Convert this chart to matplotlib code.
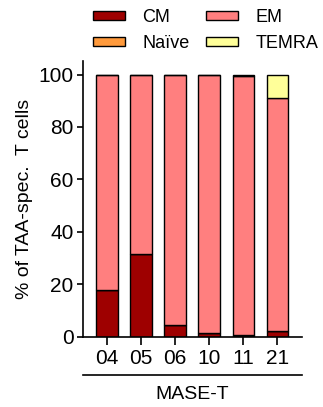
import numpy as np
import matplotlib.pyplot as plt

plt.rcParams['font.family'] = ['Liberation Sans', 'DejaVu Sans']

# Datos (% de células T específicas de TAA)
donors = ["04", "05", "06", "10", "11", "21"]
cm = [17.8, 31.7, 4.4, 1.3, 0.2, 2.3]
naive = [0, 0, 0, 0, 0.4, 0]
em = [82.2, 68.3, 95.6, 98.7, 98.8, 88.7]
temra = [0, 0, 0, 0, 0.6, 9.0]

series = [("CM", cm, "#9e0000"),
          ("Naïve", naive, "#ff9a3c"),
          ("EM", em, "#ff7f7f"),
          ("TEMRA", temra, "#ffff99")]

fig = plt.figure(figsize=(3.23, 4.07), dpi=100)
ax = fig.add_axes([0.256, 0.173, 0.678, 0.676])

x = np.arange(len(donors))
bottom = np.zeros(len(donors))
bars = {}
for name, vals, col in series:
    vals = np.array(vals)
    bars[name] = ax.bar(x, vals, 0.63, bottom=bottom, color=col,
                        edgecolor="black", linewidth=1.0, label=name)
    bottom += vals

ax.set_xlim(-0.71, 5.71)
ax.set_ylim(0, 105)
ax.set_yticks([0, 20, 40, 60, 80, 100])
ax.set_xticks(x)
ax.set_xticklabels(donors)
ax.tick_params(axis="both", labelsize=15, width=1.2)
ax.tick_params(axis="y", length=4.5, pad=2)
ax.tick_params(axis="x", length=6, pad=3)
ax.spines["top"].set_visible(False)
ax.spines["right"].set_visible(False)
ax.spines["left"].set_linewidth(1.2)
ax.spines["bottom"].set_linewidth(1.2)
ax.set_ylabel("% of TAA-spec.  T cells", fontsize=14, labelpad=4)

# linea del grupo bajo las etiquetas
ax.plot([0, 1], [-0.139, -0.139], transform=ax.transAxes, color="black",
        linewidth=1.2, clip_on=False)
ax.text(0.5, -0.21, "MASE-T", transform=ax.transAxes, ha="center",
        va="center", fontsize=14)

handles = [bars["CM"], bars["Naïve"], bars["EM"], bars["TEMRA"]]
labels = ["CM", "Naïve", "EM", "TEMRA"]
fig.legend(handles, labels, ncol=2, loc="upper left",
           bbox_to_anchor=(0.287, 0.978), frameon=False, fontsize=13,
           handlelength=1.8, handleheight=0.45, handletextpad=0.95,
           columnspacing=0.9, labelspacing=0.5, borderpad=0,
           borderaxespad=0)

plt.savefig("out.png", dpi=100)
